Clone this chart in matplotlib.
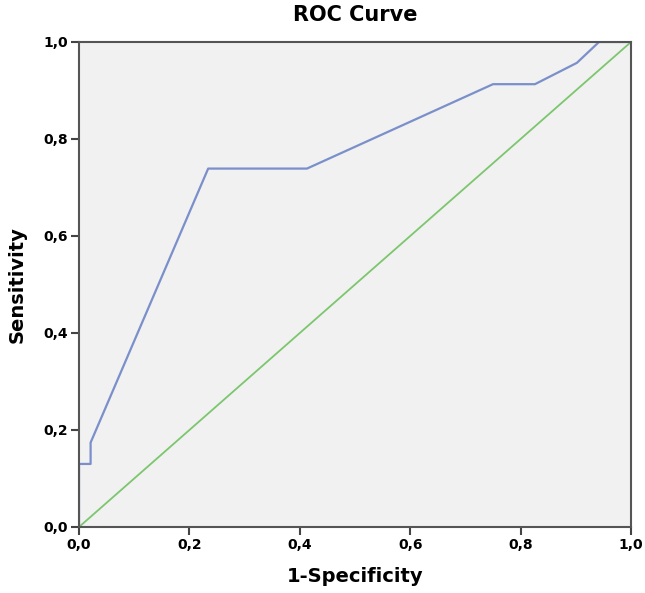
import numpy as np
import matplotlib.pyplot as plt

# ROC points
fpr = [0.0, 0.0, 0.021, 0.021, 0.234, 0.413, 0.750, 0.826, 0.902, 0.942, 1.0]
tpr = [0.0, 0.130, 0.130, 0.174, 0.739, 0.739, 0.913, 0.913, 0.957, 1.0, 1.0]
ref_line = [0.0, 1.0]
ticks = [0.0, 0.2, 0.4, 0.6, 0.8, 1.0]
tick_labels = ['0,0', '0,2', '0,4', '0,6', '0,8', '1,0']

fig = plt.figure(figsize=(6.45, 5.93), dpi=100)
ax = fig.add_axes([0.1225, 0.1113, 0.8558, 0.8179])
ax.set_facecolor('#f0f1f0')

ax.plot(ref_line, ref_line, color='#7cc66e', lw=1.3)
ax.plot(fpr, tpr, color='#7b8fcb', lw=1.6)

ax.set_xlim(0, 1)
ax.set_ylim(0, 1)
ax.set_xticks(ticks)
ax.set_yticks(ticks)
ax.set_xticklabels(tick_labels, fontweight='bold', fontsize=10)
ax.set_yticklabels(tick_labels, fontweight='bold', fontsize=10)
ax.tick_params(direction='out', length=6, width=1.5, color='#444444', pad=2)
for s in ax.spines.values():
    s.set_color('#555555')
    s.set_linewidth(1.5)

ax.set_title('ROC Curve', fontweight='bold', fontsize=15, pad=15)
ax.set_xlabel('1-Specificity', fontweight='bold', fontsize=14, labelpad=11)
ax.set_ylabel('Sensitivity', fontweight='bold', fontsize=14, labelpad=12)

fig.savefig('out.png', dpi=100)
